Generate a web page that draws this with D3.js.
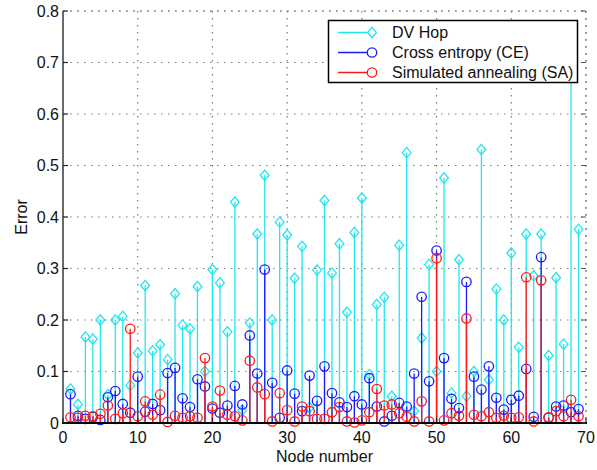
<!DOCTYPE html>
<html>
<head>
<meta charset="utf-8">
<script src="https://cdn.jsdelivr.net/npm/d3@7"></script>
<style>
  html, body { margin: 0; padding: 0; background: #fff; }
  svg { display: block; font-family: "Liberation Sans", Arial, sans-serif; }
</style>
</head>
<body>
<svg id="chart" width="597" height="470"></svg>
<script>
// Node indices 1..69
const nodes = d3.range(1, 70);

// Localization error per node, DV Hop
const dvHop = [
  0.066, 0.036, 0.167, 0.163, 0.200, 0.055, 0.200, 0.207, 0.073, 0.136,
  0.267, 0.140, 0.152, 0.123, 0.251, 0.190, 0.183, 0.265, 0.100, 0.298,
  0.272, 0.177, 0.429, 0.025, 0.194, 0.367, 0.481, 0.200, 0.390, 0.365,
  0.281, 0.343, 0.030, 0.297, 0.432, 0.291, 0.348, 0.215, 0.370, 0.437,
  0.094, 0.230, 0.244, 0.052, 0.345, 0.525, 0.023, 0.165, 0.308, 0.100,
  0.476, 0.058, 0.317, 0.052, 0.100, 0.531, 0.084, 0.260, 0.200, 0.330,
  0.147, 0.367, 0.286, 0.367, 0.131, 0.282, 0.153, 0.720, 0.376
];

// Localization error per node, cross entropy
const crossEntropy = [
  0.056, 0.014, 0.008, 0.012, 0.006, 0.050, 0.062, 0.037, 0.020, 0.090,
  0.022, 0.037, 0.025, 0.097, 0.107, 0.048, 0.031, 0.085, 0.071, 0.028,
  0.020, 0.034, 0.072, 0.036, 0.170, 0.096, 0.298, 0.078, 0.010, 0.102,
  0.057, 0.023, 0.092, 0.043, 0.110, 0.058, 0.040, 0.031, 0.052, 0.036,
  0.087, 0.032, 0.003, 0.014, 0.039, 0.032, 0.096, 0.245, 0.081, 0.335,
  0.126, 0.047, 0.029, 0.274, 0.090, 0.065, 0.110, 0.049, 0.026, 0.045,
  0.053, 0.105, 0.012, 0.322, 0.010, 0.032, 0.034, 0.021, 0.027
];

// Localization error per node, simulated annealing
const simAnnealing = [
  0.011, 0.010, 0.014, 0.013, 0.018, 0.034, 0.008, 0.019, 0.183, 0.013,
  0.042, 0.016, 0.055, 0.002, 0.014, 0.010, 0.013, 0.010, 0.126, 0.032,
  0.063, 0.016, 0.013, 0.005, 0.121, 0.069, 0.056, 0.003, 0.058, 0.025,
  0.003, 0.032, 0.023, 0.008, 0.008, 0.021, 0.031, 0.003, 0.001, 0.005,
  0.021, 0.066, 0.034, 0.036, 0.019, 0.012, 0.003, 0.042, 0.003, 0.320,
  0.005, 0.019, 0.014, 0.203, 0.016, 0.013, 0.021, 0.010, 0.014, 0.010,
  0.011, 0.283, 0.003, 0.277, 0.011, 0.023, 0.013, 0.045, 0.013
];

const xTicks = [0, 10, 20, 30, 40, 50, 60, 70];
const yTicks = [0, 0.1, 0.2, 0.3, 0.4, 0.5, 0.6, 0.7, 0.8];

const seriesNames = ["DV Hop", "Cross entropy (CE)", "Simulated annealing (SA)"];
const seriesColors = ["#22e6ee", "#1a1aff", "#ff1a1a"];
const seriesMarkers = ["diamond", "circle", "circle"];
const seriesValues = [dvHop, crossEntropy, simAnnealing];

const svg = d3.select("#chart");
const plotLeft = 63, plotRight = 586, plotTop = 11, plotBottom = 423;

const x = d3.scaleLinear().domain([0, 70]).range([plotLeft, plotRight]);
const y = d3.scaleLinear().domain([0, 0.8]).range([plotBottom, plotTop]);

const diamondPath = "M0,-5.2L4.4,0L0,5.2L-4.4,0Z";
const markerR = 4.7;

// Dotted grid
const grid = svg.append("g");
grid.append("g").selectAll("line").data(xTicks.slice(1)).join("line")
  .attr("x1", d => x(d)).attr("x2", d => x(d))
  .attr("y1", plotTop).attr("y2", plotBottom)
  .attr("stroke", "#777").attr("stroke-width", 1.2)
  .attr("stroke-dasharray", "1.5,5.5");
grid.append("g").selectAll("line").data(yTicks.slice(1)).join("line")
  .attr("x1", plotLeft).attr("x2", plotRight)
  .attr("y1", d => y(d)).attr("y2", d => y(d))
  .attr("stroke", "#777").attr("stroke-width", 1.2)
  .attr("stroke-dasharray", "1.5,5.5");

// Stems and markers, one group per series
function drawStems(g, vals, color, kind) {
  g.append("g").selectAll("line").data(nodes).join("line")
    .attr("x1", d => x(d)).attr("x2", d => x(d))
    .attr("y1", y(0)).attr("y2", (d, i) => y(vals[i]))
    .attr("stroke", color).attr("stroke-width", 1.3);
  const m = g.append("g");
  if (kind === "diamond") {
    m.selectAll("path").data(nodes).join("path")
      .attr("transform", (d, i) => `translate(${x(d)},${y(vals[i])})`)
      .attr("d", diamondPath)
      .attr("fill", "none").attr("stroke", color).attr("stroke-width", 1.3);
  } else {
    m.selectAll("circle").data(nodes).join("circle")
      .attr("cx", d => x(d))
      .attr("cy", (d, i) => y(vals[i]))
      .attr("r", markerR)
      .attr("fill", "none").attr("stroke", color).attr("stroke-width", 1.3);
  }
}

const plot = svg.append("g");
seriesValues.forEach((vals, k) => {
  drawStems(plot.append("g"), vals, seriesColors[k], seriesMarkers[k]);
});

// Axes frame
const frame = svg.append("g");
frame.append("line").attr("x1", plotLeft).attr("x2", plotRight).attr("y1", plotTop).attr("y2", plotTop)
  .attr("stroke", "#888").attr("stroke-width", 1).attr("stroke-dasharray", "2,5");
frame.append("line").attr("x1", plotRight).attr("x2", plotRight).attr("y1", plotTop).attr("y2", plotBottom)
  .attr("stroke", "#888").attr("stroke-width", 1.2).attr("stroke-dasharray", "2,5");
frame.append("line").attr("x1", plotLeft).attr("x2", plotLeft).attr("y1", plotTop).attr("y2", plotBottom + 1)
  .attr("stroke", "#6a6a6a").attr("stroke-width", 2);
frame.append("line").attr("x1", plotLeft - 1).attr("x2", plotRight + 1).attr("y1", plotBottom).attr("y2", plotBottom)
  .attr("stroke", "#000").attr("stroke-width", 2);

// Inward tick marks
frame.append("g").selectAll("line").data(yTicks).join("line")
  .attr("x1", plotLeft).attr("x2", plotLeft + 5)
  .attr("y1", d => y(d)).attr("y2", d => y(d))
  .attr("stroke", "#222").attr("stroke-width", 1.2);
frame.append("g").selectAll("line").data(yTicks).join("line")
  .attr("x1", plotRight - 5).attr("x2", plotRight)
  .attr("y1", d => y(d)).attr("y2", d => y(d))
  .attr("stroke", "#555").attr("stroke-width", 1);
frame.append("g").selectAll("line").data(xTicks).join("line")
  .attr("x1", d => x(d)).attr("x2", d => x(d))
  .attr("y1", plotBottom).attr("y2", plotBottom - 5)
  .attr("stroke", "#222").attr("stroke-width", 1.2);

// Tick labels
const labels = svg.append("g").attr("font-size", 16).attr("fill", "#111");
labels.append("g").selectAll("text").data(yTicks).join("text")
  .attr("x", plotLeft - 4).attr("y", d => y(d) + 5.5)
  .attr("text-anchor", "end")
  .text(d => d3.format("~g")(d));
labels.append("g").selectAll("text").data(xTicks).join("text")
  .attr("x", d => x(d)).attr("y", plotBottom + 20)
  .attr("text-anchor", "middle")
  .text(d => d);

// Axis titles
svg.append("text").attr("font-size", 16).attr("fill", "#111")
  .attr("x", (plotLeft + plotRight) / 2).attr("y", 462)
  .attr("text-anchor", "middle").text("Node number");
svg.append("text").attr("font-size", 16).attr("fill", "#111")
  .attr("transform", `translate(27,${(plotTop + plotBottom) / 2}) rotate(-90)`)
  .attr("text-anchor", "middle").text("Error");

// Legend
const lg = svg.append("g");
lg.append("rect").attr("x", 328.5).attr("y", 20.5).attr("width", 249).attr("height", 62)
  .attr("fill", "#fff").attr("stroke", "#000").attr("stroke-width", 1.5);
seriesNames.forEach((name, k) => {
  const cy = 32.5 + k * 20;
  const row = lg.append("g");
  row.append("line").attr("x1", 338).attr("x2", 372).attr("y1", cy).attr("y2", cy)
    .attr("stroke", seriesColors[k]).attr("stroke-width", 1.3);
  if (seriesMarkers[k] === "diamond") {
    row.append("path").attr("transform", `translate(372,${cy})`).attr("d", diamondPath)
      .attr("fill", "#fff").attr("stroke", seriesColors[k]).attr("stroke-width", 1.3);
  } else {
    row.append("circle").attr("cx", 372).attr("cy", cy).attr("r", markerR)
      .attr("fill", "#fff").attr("stroke", seriesColors[k]).attr("stroke-width", 1.3);
  }
  row.append("text").attr("x", 392).attr("y", cy + 5.5).attr("font-size", 16).attr("fill", "#111")
    .text(name);
});
</script>
</body>
</html>
